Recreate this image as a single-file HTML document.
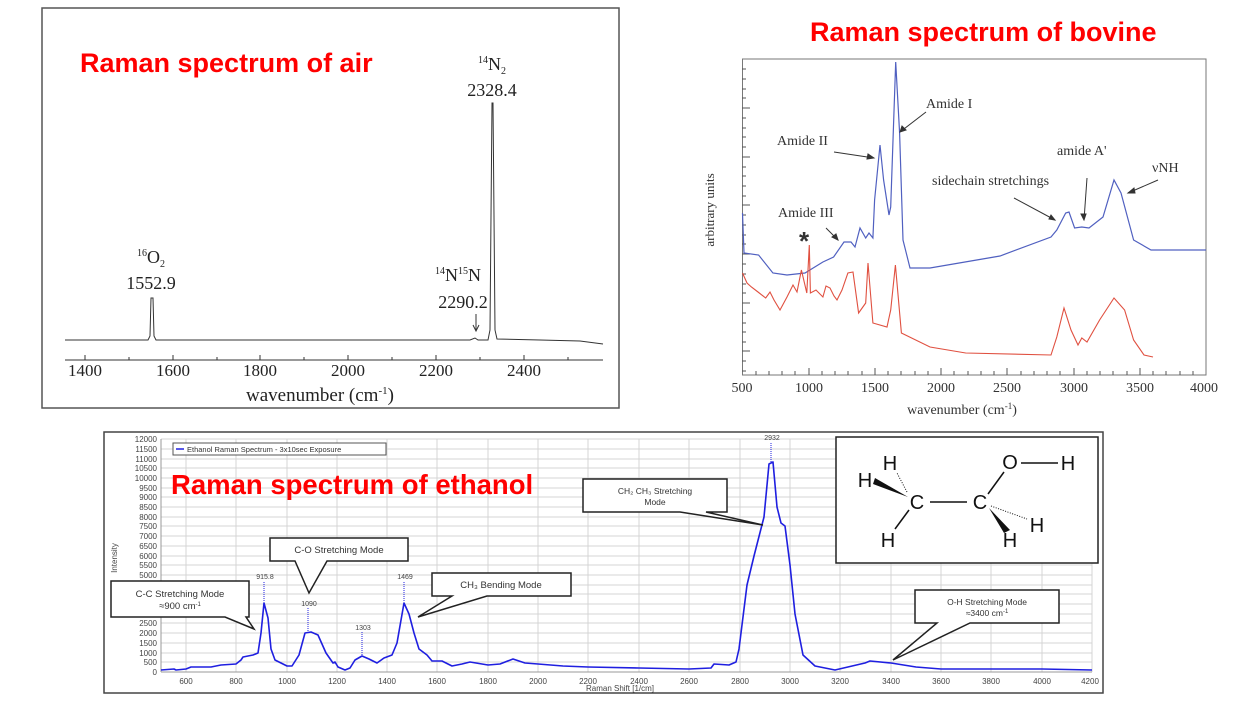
<!DOCTYPE html>
<html><head><meta charset="utf-8"><style>
html,body{margin:0;padding:0;background:#fff;}
svg{display:block}
.ser{font-family:"Liberation Serif",serif;}
.san{font-family:"Liberation Sans",sans-serif;}
.red{font-family:"Liberation Sans",sans-serif;font-weight:bold;fill:#f00;}
</style></head><body>
<svg width="1247" height="701" viewBox="0 0 1247 701" xmlns="http://www.w3.org/2000/svg">
<!-- ===== AIR ===== -->
<rect x="42" y="8" width="577" height="400" fill="#fff" stroke="#555" stroke-width="1.5"/>
<text class="red" x="80" y="72" font-size="27">Raman spectrum of air</text>
<line x1="65" y1="360" x2="603" y2="360" stroke="#333" stroke-width="1"/>
<g stroke="#333" stroke-width="1">
<line x1="85" y1="360" x2="85" y2="355"/><line x1="129" y1="360" x2="129" y2="357"/>
<line x1="173" y1="360" x2="173" y2="355"/><line x1="217" y1="360" x2="217" y2="357"/>
<line x1="260" y1="360" x2="260" y2="355"/><line x1="304" y1="360" x2="304" y2="357"/>
<line x1="348" y1="360" x2="348" y2="355"/><line x1="392" y1="360" x2="392" y2="357"/>
<line x1="436" y1="360" x2="436" y2="355"/><line x1="480" y1="360" x2="480" y2="357"/>
<line x1="524" y1="360" x2="524" y2="355"/><line x1="568" y1="360" x2="568" y2="357"/>
</g>
<g class="ser" font-size="17" fill="#222" text-anchor="middle">
<text x="85" y="376">1400</text><text x="173" y="376">1600</text><text x="260" y="376">1800</text>
<text x="348" y="376">2000</text><text x="436" y="376">2200</text><text x="524" y="376">2400</text>
<text x="320" y="401" font-size="19">wavenumber (cm<tspan dy="-7" font-size="11">-1</tspan><tspan dy="7">)</tspan></text>
</g>
<polyline fill="none" stroke="#333" stroke-width="1" points="65,340 148,340 150,336 151,298 153,298 154,336 156,340 470,340 475,338 478,340 488,340 490,330 492,103 493,103 495,330 497,339 540,340 580,341 603,344"/>
<g class="ser" fill="#222" text-anchor="middle" font-size="18">
<text x="492" y="70"><tspan font-size="10" dy="-7">14</tspan><tspan dy="7">N</tspan><tspan font-size="10" dy="4">2</tspan></text>
<text x="492" y="96">2328.4</text>
<text x="151" y="263"><tspan font-size="10" dy="-7">16</tspan><tspan dy="7">O</tspan><tspan font-size="10" dy="4">2</tspan></text>
<text x="151" y="289">1552.9</text>
<text x="458" y="281"><tspan font-size="10" dy="-7">14</tspan><tspan dy="7">N</tspan><tspan font-size="10" dy="-7">15</tspan><tspan dy="7">N</tspan></text>
<text x="463" y="308">2290.2</text>
</g>
<line x1="476" y1="314" x2="476" y2="330" stroke="#333"/><path d="M473,325 L476,331 L479,325" fill="none" stroke="#333"/>

<!-- ===== BOVINE ===== -->
<text class="red" x="810" y="41" font-size="27">Raman spectrum of bovine</text>
<rect x="742.5" y="59" width="463.5" height="316" fill="none" stroke="#777" stroke-width="1"/>
<g stroke="#555" stroke-width="1">
<line x1="742" y1="108" x2="750" y2="108"/><line x1="742" y1="157" x2="750" y2="157"/><line x1="742" y1="205" x2="750" y2="205"/>
<line x1="742" y1="254" x2="750" y2="254"/><line x1="742" y1="303" x2="750" y2="303"/><line x1="742" y1="351" x2="750" y2="351"/>
<line x1="742" y1="69" x2="746" y2="69"/><line x1="742" y1="79" x2="746" y2="79"/><line x1="742" y1="89" x2="746" y2="89"/><line x1="742" y1="98" x2="746" y2="98"/>
<line x1="742" y1="118" x2="746" y2="118"/><line x1="742" y1="128" x2="746" y2="128"/><line x1="742" y1="137" x2="746" y2="137"/><line x1="742" y1="147" x2="746" y2="147"/>
<line x1="742" y1="167" x2="746" y2="167"/><line x1="742" y1="176" x2="746" y2="176"/><line x1="742" y1="186" x2="746" y2="186"/><line x1="742" y1="196" x2="746" y2="196"/>
<line x1="742" y1="215" x2="746" y2="215"/><line x1="742" y1="225" x2="746" y2="225"/><line x1="742" y1="235" x2="746" y2="235"/><line x1="742" y1="244" x2="746" y2="244"/>
<line x1="742" y1="264" x2="746" y2="264"/><line x1="742" y1="274" x2="746" y2="274"/><line x1="742" y1="284" x2="746" y2="284"/><line x1="742" y1="293" x2="746" y2="293"/>
<line x1="742" y1="313" x2="746" y2="313"/><line x1="742" y1="323" x2="746" y2="323"/><line x1="742" y1="332" x2="746" y2="332"/><line x1="742" y1="342" x2="746" y2="342"/>
<line x1="742" y1="361" x2="746" y2="361"/><line x1="742" y1="371" x2="746" y2="371"/>
</g>
<g stroke="#555" stroke-width="1">
<line x1="809" y1="375" x2="809" y2="368"/><line x1="875" y1="375" x2="875" y2="368"/><line x1="941" y1="375" x2="941" y2="368"/>
<line x1="1007" y1="375" x2="1007" y2="368"/><line x1="1074" y1="375" x2="1074" y2="368"/><line x1="1140" y1="375" x2="1140" y2="368"/>
<line x1="756" y1="375" x2="756" y2="371"/><line x1="769" y1="375" x2="769" y2="371"/><line x1="782" y1="375" x2="782" y2="371"/><line x1="795" y1="375" x2="795" y2="371"/>
<line x1="822" y1="375" x2="822" y2="371"/><line x1="835" y1="375" x2="835" y2="371"/><line x1="848" y1="375" x2="848" y2="371"/><line x1="862" y1="375" x2="862" y2="371"/>
<line x1="888" y1="375" x2="888" y2="371"/><line x1="901" y1="375" x2="901" y2="371"/><line x1="915" y1="375" x2="915" y2="371"/><line x1="928" y1="375" x2="928" y2="371"/>
<line x1="954" y1="375" x2="954" y2="371"/><line x1="968" y1="375" x2="968" y2="371"/><line x1="981" y1="375" x2="981" y2="371"/><line x1="994" y1="375" x2="994" y2="371"/>
<line x1="1021" y1="375" x2="1021" y2="371"/><line x1="1034" y1="375" x2="1034" y2="371"/><line x1="1047" y1="375" x2="1047" y2="371"/><line x1="1060" y1="375" x2="1060" y2="371"/>
<line x1="1087" y1="375" x2="1087" y2="371"/><line x1="1100" y1="375" x2="1100" y2="371"/><line x1="1113" y1="375" x2="1113" y2="371"/><line x1="1127" y1="375" x2="1127" y2="371"/>
<line x1="1153" y1="375" x2="1153" y2="371"/><line x1="1166" y1="375" x2="1166" y2="371"/><line x1="1180" y1="375" x2="1180" y2="371"/><line x1="1193" y1="375" x2="1193" y2="371"/>
</g>
<g class="ser" font-size="14" fill="#333" text-anchor="middle">
<text x="742" y="392">500</text><text x="809" y="392">1000</text><text x="875" y="392">1500</text><text x="941" y="392">2000</text>
<text x="1007" y="392">2500</text><text x="1074" y="392">3000</text><text x="1140" y="392">3500</text><text x="1204" y="392">4000</text>
<text x="962" y="414" font-size="14">wavenumber (cm<tspan dy="-5" font-size="9">-1</tspan><tspan dy="5">)</tspan></text>
<text transform="translate(714,210) rotate(-90)" font-size="13">arbitrary units</text>
</g>
<polyline fill="none" stroke="#5060c0" stroke-width="1.2" points="742.5,213 744,253 758.6,255 772.9,273 787,275 805,273 822.9,262 833.6,257 844,242 851,242 855,247 860,228 865.7,238 869,233 872.9,238 874.6,200 880,145 883.6,180 889,215 890.7,207 895.7,62 899.6,133 903,240 910,268 930,268 1000,256 1051,237 1056.8,230 1065.7,213 1069,212 1074.6,228 1081.8,227 1089,228 1103,217 1114,180 1121,193 1133.6,240 1151,250 1206,250"/>
<polyline fill="none" stroke="#e05040" stroke-width="1.1" points="742.5,273 747,283 751.4,287 758,292 765.7,298 770,292 774,300 780,310 787,297 793,285 797,292 801.4,270 806.8,293 809.3,245 810.4,293 816,290 822.9,297 826,286 830,288 834,296 837,300 842,290 847.9,273 853,272 858.6,313 865.7,303 868,263 872.9,323 887,327 890.7,310 895.4,265 901.4,333 930,347 965.7,353 1051,355 1056.8,337 1064,308 1071,330 1078,345 1081.8,338 1087,342 1099.6,320 1114,298 1124.6,310 1133.6,340 1144,355 1153,357"/>
<g class="ser" font-size="14" fill="#333">
<text x="926" y="108">Amide I</text>
<text x="777" y="145">Amide II</text>
<text x="778" y="217">Amide III</text>
<text x="932" y="185">sidechain stretchings</text>
<text x="1057" y="155">amide A'</text>
<text x="1152" y="172">νNH</text>
<text x="799" y="250" font-size="26" font-weight="bold" font-family="Liberation Sans,sans-serif">*</text>
</g>
<g stroke="#333" stroke-width="1" fill="#333">
<line x1="926" y1="112" x2="900" y2="132"/><path d="M900,132 l2,-6 l4,4z"/>
<line x1="834" y1="152" x2="874" y2="158"/><path d="M874,158 l-6,-4 l-1,5z"/>
<line x1="826" y1="228" x2="838" y2="240"/><path d="M838,240 l-2,-6 l-4,3z"/>
<line x1="1014" y1="198" x2="1055" y2="220"/><path d="M1055,220 l-4,-5 l-2,4z"/>
<line x1="1087" y1="178" x2="1084" y2="220"/><path d="M1084,220 l-3,-6 l5,0z"/>
<line x1="1158" y1="180" x2="1128" y2="193"/><path d="M1128,193 l6,-5 l1,5z"/>
</g>

<!-- ===== ETHANOL ===== -->
<rect x="104" y="432" width="999" height="261" fill="#fff" stroke="#444" stroke-width="1.5"/>
<g stroke="#d4d4d4" stroke-width="1">
<line x1="161" y1="439" x2="1092" y2="439"/><line x1="161" y1="449" x2="1092" y2="449"/><line x1="161" y1="459" x2="1092" y2="459"/><line x1="161" y1="468" x2="1092" y2="468"/>
<line x1="161" y1="478" x2="1092" y2="478"/><line x1="161" y1="488" x2="1092" y2="488"/><line x1="161" y1="497" x2="1092" y2="497"/><line x1="161" y1="507" x2="1092" y2="507"/>
<line x1="161" y1="517" x2="1092" y2="517"/><line x1="161" y1="526" x2="1092" y2="526"/><line x1="161" y1="536" x2="1092" y2="536"/><line x1="161" y1="546" x2="1092" y2="546"/>
<line x1="161" y1="556" x2="1092" y2="556"/><line x1="161" y1="565" x2="1092" y2="565"/><line x1="161" y1="575" x2="1092" y2="575"/><line x1="161" y1="585" x2="1092" y2="585"/>
<line x1="161" y1="594" x2="1092" y2="594"/><line x1="161" y1="604" x2="1092" y2="604"/><line x1="161" y1="614" x2="1092" y2="614"/><line x1="161" y1="623" x2="1092" y2="623"/>
<line x1="161" y1="633" x2="1092" y2="633"/><line x1="161" y1="643" x2="1092" y2="643"/><line x1="161" y1="653" x2="1092" y2="653"/><line x1="161" y1="662" x2="1092" y2="662"/>
<line x1="186" y1="439" x2="186" y2="672"/><line x1="236" y1="439" x2="236" y2="672"/><line x1="287" y1="439" x2="287" y2="672"/><line x1="337" y1="439" x2="337" y2="672"/>
<line x1="387" y1="439" x2="387" y2="672"/><line x1="437" y1="439" x2="437" y2="672"/><line x1="488" y1="439" x2="488" y2="672"/><line x1="538" y1="439" x2="538" y2="672"/>
<line x1="588" y1="439" x2="588" y2="672"/><line x1="639" y1="439" x2="639" y2="672"/><line x1="689" y1="439" x2="689" y2="672"/><line x1="740" y1="439" x2="740" y2="672"/>
<line x1="790" y1="439" x2="790" y2="672"/><line x1="840" y1="439" x2="840" y2="672"/><line x1="891" y1="439" x2="891" y2="672"/><line x1="941" y1="439" x2="941" y2="672"/>
<line x1="991" y1="439" x2="991" y2="672"/><line x1="1042" y1="439" x2="1042" y2="672"/><line x1="1092" y1="439" x2="1092" y2="672"/>
</g>
<line x1="161" y1="439" x2="161" y2="672" stroke="#999"/><line x1="161" y1="672" x2="1092" y2="672" stroke="#999"/>
<g class="san" font-size="8" fill="#444" text-anchor="end">
<text x="157" y="442">12000</text><text x="157" y="452">11500</text><text x="157" y="462">11000</text><text x="157" y="471">10500</text>
<text x="157" y="481">10000</text><text x="157" y="491">9500</text><text x="157" y="500">9000</text><text x="157" y="510">8500</text>
<text x="157" y="520">8000</text><text x="157" y="529">7500</text><text x="157" y="539">7000</text><text x="157" y="549">6500</text>
<text x="157" y="559">6000</text><text x="157" y="568">5500</text><text x="157" y="578">5000</text>
<text x="157" y="626">2500</text><text x="157" y="636">2000</text><text x="157" y="646">1500</text><text x="157" y="656">1000</text>
<text x="157" y="665">500</text><text x="157" y="675">0</text>
</g>
<g class="san" font-size="8" fill="#444" text-anchor="middle">
<text x="186" y="684">600</text><text x="236" y="684">800</text><text x="287" y="684">1000</text><text x="337" y="684">1200</text>
<text x="387" y="684">1400</text><text x="437" y="684">1600</text><text x="488" y="684">1800</text><text x="538" y="684">2000</text>
<text x="588" y="684">2200</text><text x="639" y="684">2400</text><text x="689" y="684">2600</text><text x="740" y="684">2800</text>
<text x="790" y="684">3000</text><text x="840" y="684">3200</text><text x="891" y="684">3400</text><text x="941" y="684">3600</text>
<text x="991" y="684">3800</text><text x="1042" y="684">4000</text><text x="1090" y="684">4200</text>
<text x="620" y="691">Raman Shift [1/cm]</text>
<text transform="translate(117,558) rotate(-90)" font-size="8">Intensity</text>
</g>
<rect x="173" y="443" width="213" height="12" fill="#fff" stroke="#555"/>
<line x1="176" y1="449" x2="184" y2="449" stroke="#2020e0" stroke-width="1.5"/>
<text class="san" x="187" y="452" font-size="7.5" fill="#333">Ethanol Raman Spectrum - 3x10sec Exposure</text>
<polyline fill="none" stroke="#1f1fe0" stroke-width="1.6" stroke-linejoin="round" points="161,670 174,669 176,670 186,669 191,667 211,667 221,665 236,664 241,660 243,657 253,655 258,653 261,633 264,603 268,618 271,649 275,660 287,666 292,666 299,655 305,633 311,632 318,635 326,653 333,663 335,662 338,667 345,670 350,668 355,660 362,656 369,659 377,663 384,658 392,655 397,643 404,603 409,614 414,633 419,649 427,655 432,661 442,661 452,666 462,664 470,662 488,665 500,664 513,659 525,663 538,664 563,666 588,667 639,668 689,669 711,668 714,664 729,665 736,662 739,649 747,585 754,556 764,517 769,464 773,462 777,507 781,523 785,526 790,565 795,614 803,655 815,666 835,670 865,663 870,661 891,663 916,667 941,669 1042,669 1092,670"/>
<g class="san" font-size="7" fill="#444" text-anchor="middle">
<text x="265" y="579">915.8</text><text x="309" y="606">1090</text><text x="363" y="630">1303</text><text x="405" y="579">1469</text><text x="772" y="440">2932</text>
</g>
<g stroke="#2020e0" stroke-width="1" stroke-dasharray="1,1">
<line x1="264" y1="582" x2="264" y2="602"/><line x1="308" y1="608" x2="308" y2="632"/><line x1="362" y1="632" x2="362" y2="656"/>
<line x1="404" y1="582" x2="404" y2="602"/><line x1="771" y1="443" x2="771" y2="462"/>
</g>
<text class="red" x="171" y="494" font-size="27.5">Raman spectrum of ethanol</text>
<g fill="#fff" stroke="#222" stroke-width="1.5">
<path d="M270,538 H408 V561 H327 L309,593 L295,561 H270 Z"/>
<path d="M111,581 H249 V617 H246 L254,629 L225,617 H111 Z"/>
<path d="M432,573 H571 V596 H487 L418,617 L452,596 H432 Z"/>
<path d="M583,479 H727 V512 H706 L763,525 L680,512 H583 Z"/>
<path d="M915,590 H1059 V623 H970 L893,660 L937,623 H915 Z"/>
<rect x="836" y="437" width="262" height="126"/>
</g>
<g class="san" font-size="9.5" fill="#333" text-anchor="middle">
<text x="339" y="553">C-O Stretching Mode</text>
<text x="180" y="597">C-C Stretching Mode</text>
<text x="180" y="609">≈900 cm<tspan dy="-3" font-size="6">-1</tspan></text>
<text x="501" y="588">CH₃ Bending Mode</text>
<text x="655" y="494" font-size="8.5">CH₂ CH₃ Stretching</text>
<text x="655" y="505" font-size="8.5">Mode</text>
<text x="987" y="605" font-size="8.5">O-H Stretching Mode</text>
<text x="987" y="616" font-size="8.5">≈3400 cm<tspan dy="-3" font-size="6">-1</tspan></text>
</g>
<g class="san" font-size="20" fill="#111" text-anchor="middle">
<text x="890" y="470">H</text><text x="865" y="487">H</text><text x="917" y="509">C</text><text x="980" y="509">C</text>
<text x="1010" y="469">O</text><text x="1068" y="470">H</text><text x="1037" y="532">H</text><text x="888" y="547">H</text><text x="1010" y="547">H</text>
</g>
<g stroke="#111" stroke-width="1.5">
<line x1="930" y1="502" x2="967" y2="502"/><line x1="988" y1="494" x2="1004" y2="472"/><line x1="1021" y1="463" x2="1058" y2="463"/>
<line x1="909" y1="510" x2="895" y2="529"/>
</g>
<path d="M908,497 L875,478 L873,484 Z" fill="#111"/>
<path d="M989,508 L1010,530 L1004,533 Z" fill="#111"/>
<g stroke="#111" stroke-width="1" stroke-dasharray="1,1.5">
<line x1="907" y1="492" x2="897" y2="473"/><line x1="991" y1="506" x2="1027" y2="519"/>
</g>
</svg>
</body></html>
